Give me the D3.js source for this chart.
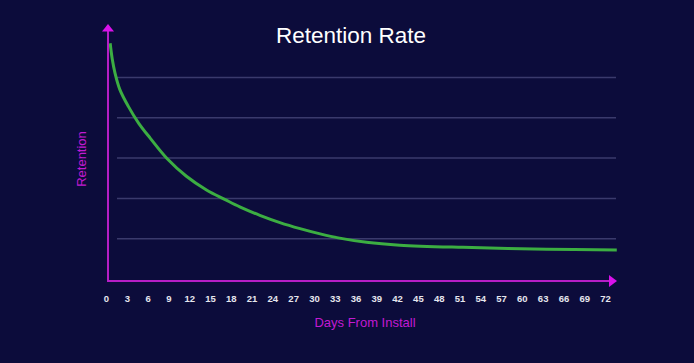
<!DOCTYPE html>
<html>
<head>
<meta charset="utf-8">
<script src="https://cdn.jsdelivr.net/npm/d3@7"></script>
<style>
  html, body { margin: 0; padding: 0; background: #0c0c3b; }
  svg { display: block; font-family: "Liberation Sans", Arial, sans-serif; }
</style>
</head>
<body>
<script>
/* Data */
const days = [0.6, 0.9, 1.3, 2.0, 3.2, 4.7, 6.4, 8.8, 11.6, 14.5, 17.2, 19.3, 22.2, 25.1, 28, 30.9, 33.5, 37.6, 42.4, 51.5, 63.6, 73.7];
const retention = [58.5, 54.6, 51.1, 47.0, 42.9, 38.7, 34.9, 29.9, 25.5, 22.1, 19.7, 17.9, 15.8, 14.0, 12.5, 11.2, 10.2, 9.1, 8.4, 7.85, 7.4, 7.2];
const xTicks = d3.range(0, 73, 3);
const gridValues = [10, 20, 30, 40, 50];

/* Constants */
const w = 694;
const h = 363;

const svg = d3.select("body").append("svg")
  .attr("width", w)
  .attr("height", h);

/* Scales */
const xScale = d3.scaleLinear()
  .domain([0, 72])
  .range([106, 605]);

const yScale = d3.scaleLinear()
  .domain([0, 50])
  .range([279, 77.5]);

/* Title */
svg.append("text")
  .attr("x", 351)
  .attr("y", 43)
  .attr("text-anchor", "middle")
  .attr("fill", "#ffffff")
  .style("font-size", "22.5px")
  .text("Retention Rate");

/* Gridlines */
svg.append("g")
  .selectAll("line")
  .data(gridValues)
  .enter()
  .append("line")
  .attr("x1", 117)
  .attr("x2", 616)
  .attr("y1", d => yScale(d))
  .attr("y2", d => yScale(d))
  .attr("stroke", "#3a3a6c")
  .attr("stroke-width", 1.5);

/* Curve */
const line = d3.line()
  .x((d, i) => xScale(d))
  .y((d, i) => yScale(retention[i]))
  .curve(d3.curveCatmullRom.alpha(0.5));

svg.append("path")
  .datum(days)
  .attr("d", line)
  .attr("fill", "none")
  .attr("stroke", "#3cae42")
  .attr("stroke-width", 3);

/* Axes with arrows */
const axisColor = "#b61ec6";
const arrowColor = "#d912ea";

svg.append("line")
  .attr("x1", 108).attr("x2", 108)
  .attr("y1", 282).attr("y2", 30)
  .attr("stroke", axisColor).attr("stroke-width", 2);

svg.append("line")
  .attr("x1", 107).attr("x2", 611)
  .attr("y1", 281).attr("y2", 281)
  .attr("stroke", axisColor).attr("stroke-width", 2);

svg.append("path")
  .attr("d", "M102,31.5 L108,24 L114,31.5 Z")
  .attr("fill", arrowColor);

svg.append("path")
  .attr("d", "M609,275 L617,281 L609,287 Z")
  .attr("fill", arrowColor);

/* X tick labels */
const xAxis = d3.axisBottom(xScale)
  .tickValues(xTicks)
  .tickSize(0)
  .tickPadding(14);

const gx = svg.append("g")
  .attr("transform", "translate(0,281)")
  .call(xAxis);

gx.select(".domain").remove();
gx.selectAll("text")
  .attr("fill", "#e6e6ee")
  .style("font-size", "9.5px")
  .style("font-weight", "bold")
  .style("font-family", "'Liberation Sans', Arial, sans-serif");

/* Axis titles */
svg.append("text")
  .attr("x", 365)
  .attr("y", 327)
  .attr("text-anchor", "middle")
  .attr("fill", "#c21ad2")
  .style("font-size", "13px")
  .text("Days From Install");

svg.append("text")
  .attr("transform", "translate(86,159) rotate(-90)")
  .attr("text-anchor", "middle")
  .attr("fill", "#c21ad2")
  .style("font-size", "13px")
  .text("Retention");
</script>
</body>
</html>
